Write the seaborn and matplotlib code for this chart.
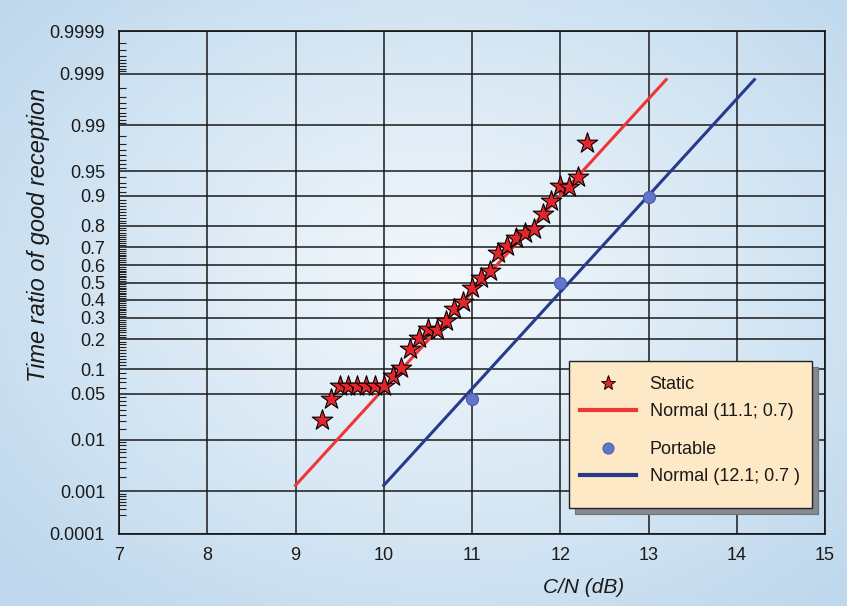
import math
import numpy as np
import pandas as pd
import matplotlib
matplotlib.use("Agg")
import matplotlib.pyplot as plt
import matplotlib.ticker as mticker
from matplotlib.patches import Rectangle
from matplotlib.lines import Line2D
import seaborn as sns

# ---------------- data ----------------
static_cn = [9.3, 9.4, 9.5, 9.6, 9.7, 9.8, 9.9, 10.0, 10.1, 10.2, 10.3, 10.4,
             10.5, 10.6, 10.7, 10.8, 10.9, 11.0, 11.1, 11.2, 11.3, 11.4, 11.5,
             11.6, 11.7, 11.8, 11.9, 12.0, 12.1, 12.2, 12.3]
static_p = [0.0207, 0.042, 0.0625, 0.0625, 0.0625, 0.0625, 0.0625, 0.0625,
            0.0845, 0.1035, 0.163, 0.204, 0.247, 0.243, 0.287, 0.349, 0.387,
            0.465, 0.528, 0.567, 0.666, 0.704, 0.744, 0.766, 0.786, 0.844,
            0.885, 0.923, 0.922, 0.941, 0.9806]
portable_cn = [11.0, 12.0, 13.0]
portable_p = [0.042, 0.5, 0.896]
static_fit = (11.1, 0.7)     # Normal (mean; std)
portable_fit = (12.1, 0.7)
fit_span_sd = 3.0

y_major = [0.0001, 0.001, 0.01, 0.05, 0.1, 0.2, 0.3, 0.4, 0.5, 0.6, 0.7, 0.8,
           0.9, 0.95, 0.99, 0.999, 0.9999]
y_major_labels = ["0.0001", "0.001", "0.01", "0.05", "0.1", "0.2", "0.3", "0.4",
                  "0.5", "0.6", "0.7", "0.8", "0.9", "0.95", "0.99", "0.999", "0.9999"]
x_ticks = [7, 8, 9, 10, 11, 12, 13, 14, 15]

# ---------------- probit scale ----------------
_erf = np.vectorize(math.erf)
_zg = np.linspace(-6.5, 6.5, 60001)
_cg = 0.5 * (1.0 + _erf(_zg / math.sqrt(2.0)))


def norm_cdf(z):
    return 0.5 * (1.0 + _erf(np.asarray(z, dtype=float) / math.sqrt(2.0)))


def probit(p):
    p = np.asarray(p, dtype=float)
    return np.interp(p, _cg, _zg)


def probit_inv(z):
    z = np.asarray(z, dtype=float)
    return np.interp(z, _zg, _cg)


# ---------------- figure ----------------
W, H = 847, 606
fig = plt.figure(figsize=(W / 100, H / 100), dpi=100)

# background gradient
bg = fig.add_axes([0, 0, 1, 1], zorder=-10)
yy, xx = np.mgrid[0:H, 0:W]
r = np.sqrt(((xx - 440) / 560.0) ** 2 + ((yy - 280) / 420.0) ** 2)
t = np.clip(r, 0, 1)[..., None]
c0 = np.array([0.955, 0.975, 0.99])
c1 = np.array([0.75, 0.85, 0.93])
img = c0 * (1 - t) + c1 * t
bg.imshow(img, extent=[0, 1, 0, 1], aspect="auto", origin="upper")
bg.axis("off")

L, R, T, B = 119, 825, 31, 534
ax = fig.add_axes([L / W, 1 - B / H, (R - L) / W, (B - T) / H])
ax.set_facecolor("none")
ax.set_yscale("function", functions=(probit, probit_inv))

static_df = pd.DataFrame({"cn": static_cn, "p": static_p})
portable_df = pd.DataFrame({"cn": portable_cn, "p": portable_p})


def fit_line(mu, sd):
    x = np.linspace(mu - fit_span_sd * sd, mu + fit_span_sd * sd, 60)
    return pd.DataFrame({"cn": x, "p": norm_cdf((x - mu) / sd)})


red_line = "#ee3636"
blue_line = "#263b8c"
sns.lineplot(data=fit_line(*static_fit), x="cn", y="p", ax=ax, color=red_line,
             lw=2.2, zorder=3, sort=True, estimator=None)
sns.lineplot(data=fit_line(*portable_fit), x="cn", y="p", ax=ax, color=blue_line,
             lw=2.2, zorder=3, sort=True, estimator=None)
sns.scatterplot(data=static_df, x="cn", y="p", ax=ax, marker="*", s=240,
                color="#e3262c", edgecolor="black", linewidth=0.8, zorder=4)
sns.scatterplot(data=portable_df, x="cn", y="p", ax=ax, marker="o", s=75,
                color="#6275c6", edgecolor="#4a5cae", linewidth=0.8, zorder=4)

ax.set_xlim(7, 15)
ax.set_ylim(0.0001, 0.9999)
ax.set_xticks(x_ticks)
ax.set_xticklabels([str(v) for v in x_ticks])
ax.yaxis.set_major_locator(mticker.FixedLocator(y_major))
ax.yaxis.set_major_formatter(mticker.FixedFormatter(y_major_labels))

minor = []
minor += [k * 1e-4 for k in range(3, 10)]
minor += [k * 1e-3 for k in range(2, 10)]
minor += [0.01 + k * 0.005 for k in range(1, 8)]
minor += [0.05 + k * 0.01 for k in range(1, 90) if abs((0.05 + k * 0.01) * 10 - round((0.05 + k * 0.01) * 10)) > 1e-6]
minor += [0.95 + k * 0.005 for k in range(1, 8)]
minor += [0.99 + k * 0.001 for k in range(1, 9)]
minor += [0.999 + k * 0.0001 for k in range(1, 9)]
ax.yaxis.set_minor_locator(mticker.FixedLocator(minor))
ax.yaxis.set_minor_formatter(mticker.NullFormatter())
ax.xaxis.set_minor_locator(mticker.NullLocator())

ax.tick_params(axis="both", which="major", length=0, labelsize=13,
               labelcolor="#1a1a1a")
ax.tick_params(axis="y", which="major", pad=10)
ax.tick_params(axis="x", which="major", pad=9)
ax.tick_params(axis="y", which="minor", direction="in", length=5, width=0.8,
               color="#222222")
for lab in ax.get_xticklabels() + ax.get_yticklabels():
    lab.set_fontfamily("Liberation Sans")

ax.grid(True, which="major", color="#1a1a1a", lw=1.1, zorder=1)
ax.set_axisbelow(True)
for s in ax.spines.values():
    s.set_color("#111111")
    s.set_linewidth(1.2)

ax.set_xlabel("C/N (dB)", fontsize=15, fontstyle="italic",
              fontfamily="Liberation Sans", color="#1a1a1a")
ax.set_ylabel("Time ratio of good reception", fontsize=17, fontstyle="italic",
              fontfamily="Liberation Sans", color="#1a1a1a")
ax.xaxis.set_label_coords((584 - L) / (R - L), (B - 578) / (B - T))
ax.yaxis.set_label_coords((50 - L) / (R - L), (B - 235) / (B - T))

# ---------------- legend ----------------
bx0, bx1, by0, by1 = 569, 812, 361, 508
sh = 6
fig.patches.append(Rectangle(((bx0 + sh) / W, 1 - (by1 + sh) / H), (bx1 - bx0) / W,
                             (by1 - by0) / H, transform=fig.transFigure,
                             facecolor="#858a8f", edgecolor="#6d7277", lw=0.8,
                             zorder=3))
fig.patches.append(Rectangle((bx0 / W, 1 - by1 / H), (bx1 - bx0) / W,
                             (by1 - by0) / H, transform=fig.transFigure,
                             facecolor="#fde9c6", edgecolor="#222222", lw=1.0,
                             zorder=3.5))

h_static = Line2D([], [], ls="none", marker="*", ms=11, mfc="#e3262c", mec="black", mew=0.7)
h_sfit = Line2D([], [], color=red_line, lw=3)
h_port = Line2D([], [], ls="none", marker="o", ms=8, mfc="#6275c6", mec="#4a5cae", mew=0.7)
h_pfit = Line2D([], [], color=blue_line, lw=3)

common = dict(loc="upper left", frameon=False, borderpad=0, borderaxespad=0,
              handlelength=3.1, handletextpad=0.75, labelspacing=0.55,
              prop={"family": "Liberation Sans", "size": 13})
leg1 = fig.legend([h_static, h_sfit], ["Static", "Normal (11.1; 0.7)"],
                  bbox_to_anchor=(580 / W, 1 - 376 / H), **common)
leg2 = fig.legend([h_port, h_pfit], ["Portable", "Normal (12.1; 0.7 )"],
                  bbox_to_anchor=(580 / W, 1 - 441 / H), **common)
for lg in (leg1, leg2):
    lg.set_zorder(5)
    for txt in lg.get_texts():
        txt.set_color("#1a1a1a")

fig.savefig("out.png", dpi=100)
